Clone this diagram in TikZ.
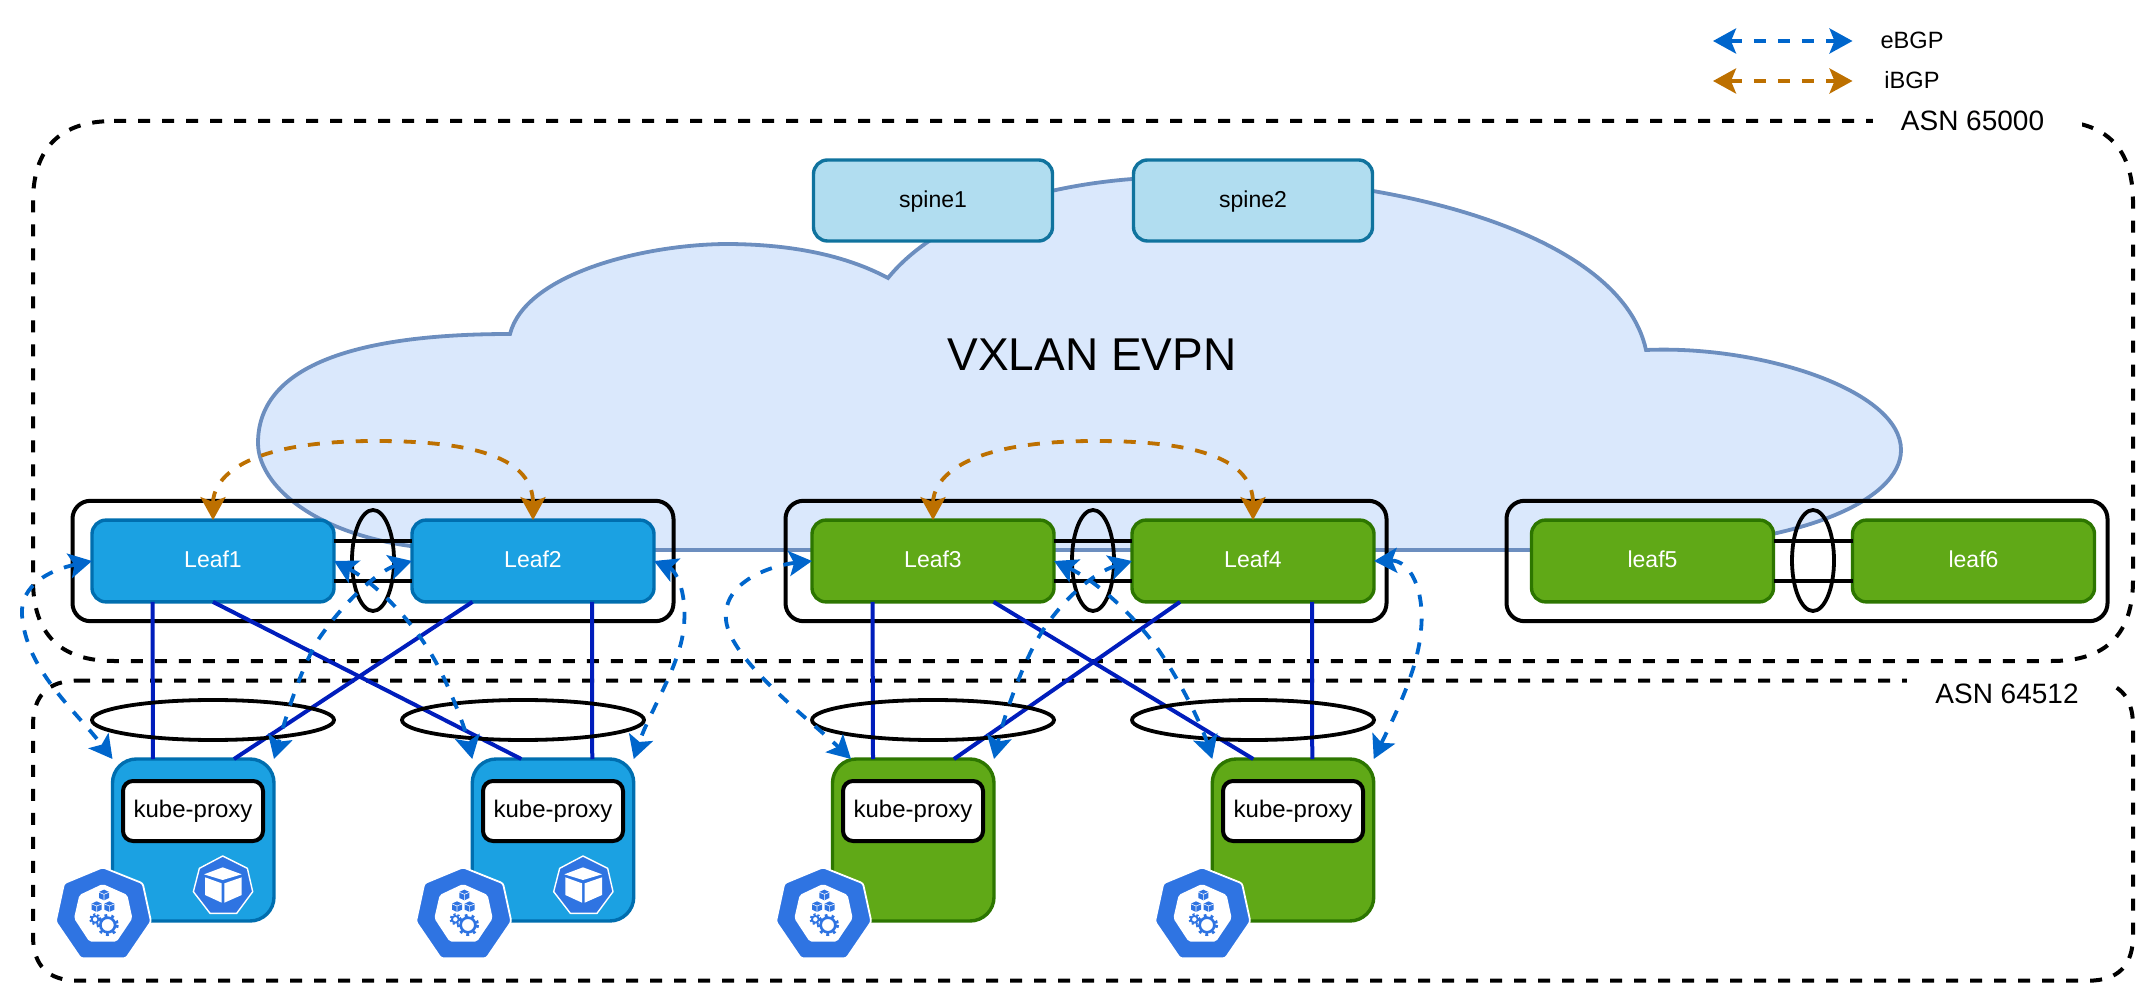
\documentclass[tikz,border=0pt]{standalone}
\usepackage{fontspec}
\setmainfont{Liberation Sans}
\usetikzlibrary{arrows.meta,shapes.geometric,calc}
\definecolor{ebgpc}{HTML}{0066CC}
\definecolor{ibgpc}{HTML}{BD7000}
\definecolor{bluefill}{HTML}{1BA1E2}
\definecolor{blueline}{HTML}{006EAF}
\definecolor{greenfill}{HTML}{60A917}
\definecolor{greenline}{HTML}{2D7600}
\definecolor{spinefill}{HTML}{B1DDF0}
\definecolor{spineline}{HTML}{10739E}
\definecolor{cloudfill}{HTML}{DAE8FC}
\definecolor{cloudline}{HTML}{6C8EBF}
\definecolor{linkc}{HTML}{001DBC}
\definecolor{k8sc}{HTML}{2F74E2}
\tikzset{
  asnline/.style={draw=black,line width=2pt,dash pattern=on 6pt off 6pt},
  asnlabel/.style={fill=white,inner sep=0pt,outer sep=0pt,font=\fontsize{14}{16}\selectfont},
  boxtext/.style={text height=9pt,text depth=2.3pt},
  groupbox/.style={draw=black,line width=2pt,rounded corners=9pt,minimum width=300.5pt,minimum height=60.2pt,inner sep=0pt,outer sep=0pt},
  leafbox/.style={boxtext,line width=1.7pt,rounded corners=7pt,minimum width=121pt,minimum height=40.9pt,inner sep=0pt,outer sep=0pt,text=white,font=\fontsize{11.5}{13}\selectfont},
  blueleaf/.style={leafbox,draw=blueline,fill=bluefill},
  greenleaf/.style={leafbox,draw=greenline,fill=greenfill},
  spinebox/.style={boxtext,draw=spineline,fill=spinefill,line width=1.7pt,rounded corners=7pt,minimum width=119.5pt,minimum height=40.5pt,inner sep=0pt,outer sep=0pt,font=\fontsize{11.5}{13}\selectfont},
  podbox/.style={line width=1.7pt,rounded corners=12pt,minimum width=80.75pt,minimum height=81pt,inner sep=0pt,outer sep=0pt},
  bluepod/.style={podbox,draw=blueline,fill=bluefill},
  greenpod/.style={podbox,draw=greenline,fill=greenfill},
  kubebox/.style={boxtext,draw=black,fill=white,line width=2pt,rounded corners=5pt,minimum width=70pt,minimum height=30pt,inner sep=0pt,outer sep=0pt,font=\fontsize{12}{14}\selectfont},
  laglong/.style={ellipse,draw=black,line width=1.9pt,minimum width=21pt,minimum height=50.5pt,inner sep=0pt,outer sep=0pt},
  lagwide/.style={ellipse,draw=black,line width=1.9pt,minimum width=121pt,minimum height=20pt,inner sep=0pt,outer sep=0pt},
  peerlink/.style={draw=black,line width=2pt},
  dlink/.style={draw=linkc,line width=2pt},
  ebgpb/.style={draw=ebgpc,line width=1.9pt,dash pattern=on 6pt off 6pt,{Stealth[length=11.5pt,width=12.5pt,inset=2.5pt,fill=ebgpc]}-{Stealth[length=11.5pt,width=12.5pt,inset=2.5pt,fill=ebgpc]}},
  ibgpb/.style={draw=ibgpc,line width=1.9pt,dash pattern=on 6pt off 6pt,{Stealth[length=11.5pt,width=12.5pt,inset=2.5pt,fill=ibgpc]}-{Stealth[length=11.5pt,width=12.5pt,inset=2.5pt,fill=ibgpc]}},
  legendtext/.style={inner sep=0pt,outer sep=0pt,font=\fontsize{11.8}{14}\selectfont},
  ctrlicon/.pic={
    \begin{scope}[x=0.16667pt,y=-0.16667pt,shift={(-188,-85)}]
      \fill[k8sc,draw=white,line width=0.9pt,line join=round,rounded corners=1.2pt]
        (188,82)--(308,130)--(333,245)--(258,355)--(122,355)--(47,245)--(72,130)--cycle;
      \fill[white,rounded corners=1pt] (188,132)--(262,165)--(277,235)--(230,305)--(148,305)--(102,235)--(118,165)--cycle;
      \foreach \cx/\cy in {192/165,170/200,208/200}{
        \begin{scope}[shift={(\cx,\cy)}]
          \fill[k8sc] (0,-16)--(15,-9)--(15,9)--(0,16)--(-15,9)--(-15,-9)--cycle;
          \draw[white,line width=0.3pt] (-15,-8)--(0,-2)--(15,-8) (0,-2)--(0,16);
        \end{scope}
      }
      \draw[k8sc,line width=1.3pt] (203,255) circle (22);
      \draw[k8sc,line width=1.4pt,dash pattern=on 1.4pt off 2.1pt] (203,255) circle (29);
      \draw[k8sc,line width=0.9pt] (165,238) circle (10);
      \draw[k8sc,line width=1pt,dash pattern=on 1pt off 1.1pt] (165,238) circle (15);
    \end{scope}
  },
  podicon/.pic={
    \begin{scope}[x=0.16667pt,y=-0.16667pt,shift={(-548,-48)}]
      \fill[k8sc,draw=white,line width=0.7pt,line join=round] (548,48)--(622,85)--(638,155)--(590,220)--(510,220)--(460,155)--(478,85)--cycle;
      \fill[white] (548,82)--(605,103)--(548,120)--(492,103)--cycle;
      \fill[white] (495,112)--(545,130)--(545,188)--(495,165)--cycle;
      \fill[white] (605,112)--(553,130)--(553,188)--(605,165)--cycle;
    \end{scope}
  }
}
\begin{document}
\begin{tikzpicture}[x=0.5pt,y=-0.5pt]
\useasboundingbox (0,0) rectangle (2156,1004);
% ASN areas (quadratic corners, drawn from the top left)
\draw[asnline] (114,121) -- (2052,121)
  .. controls (2106,121) and (2133,148) .. (2133,202) -- (2133,580)
  .. controls (2133,634) and (2106,661) .. (2052,661) -- (114,661)
  .. controls (60,661) and (33,634) .. (33,580) -- (33,202)
  .. controls (33,148) and (60,121) .. (114,121) -- cycle;
\draw[asnline] (78,680.6) -- (2088,680.6)
  .. controls (2118,680.6) and (2133,695.6) .. (2133,725.6) -- (2133,935.7)
  .. controls (2133,965.7) and (2118,980.7) .. (2088,980.7) -- (78,980.7)
  .. controls (48,980.7) and (33,965.7) .. (33,935.7) -- (33,725.6)
  .. controls (33,695.6) and (48,680.6) .. (78,680.6) -- cycle;
\node[asnlabel,minimum width=104.5pt,minimum height=20pt] (asnalabel) at (1977.5,121) {ASN 65000\kern5pt};
\node[asnlabel,minimum width=100pt,minimum height=30pt] (asnblabel) at (2007,694) {ASN 64512};
% cloud
\fill[cloudfill,draw=cloudline,line width=1.9pt,line join=miter]
  (510,334) .. controls (525,275) and (640,245) .. (725,244)
  .. controls (790,244) and (845,255) .. (888,278)
  .. controls (935,220) and (1040,178) .. (1180,177)
  .. controls (1380,172) and (1620,230) .. (1646,350)
  .. controls (1760,345) and (1901,390) .. (1901,450)
  .. controls (1901,500) and (1800,550) .. (1600,550)
  -- (470,550)
  .. controls (330,550) and (258,490) .. (258,443)
  .. controls (258,368) and (350,334) .. (510,334) -- cycle;
\node[inner sep=0pt,outer sep=0pt,font=\fontsize{23}{26}\selectfont] (vxlan) at (1092,355) {VXLAN EVPN};
% spines
\node[spinebox] (spine1) at (933,200.5) {spine1};
\node[spinebox] (spine2) at (1253,200.5) {spine2};
% groups
\node[groupbox] (group1) at (373,561) {};
\node[groupbox] (group2) at (1086,561) {};
\node[groupbox] (group3) at (1807,561) {};
% leaves
\node[blueleaf] (leaf1) at (213,561) {Leaf1};
\node[blueleaf] (leaf2) at (533,561) {Leaf2};
\node[greenleaf] (leaf3) at (933,561) {Leaf3};
\node[greenleaf] (leaf4) at (1253,561) {Leaf4};
\node[greenleaf] (leaf5) at (1652.5,561) {leaf5};
\node[greenleaf] (leaf6) at (1973.5,561) {leaf6};
% peer links
\foreach \a/\b in {leaf1/leaf2,leaf3/leaf4,leaf5/leaf6}{
  \draw[peerlink] ([yshift=10pt]\a.east) -- ([yshift=10pt]\b.west);
  \draw[peerlink] ([yshift=-10pt]\a.east) -- ([yshift=-10pt]\b.west);
}
\node[laglong] (lag1) at (373,560.5) {};
\node[laglong] (lag2) at (1093,560.5) {};
\node[laglong] (lag3) at (1813,560.5) {};
% pods
\node[bluepod] (pod1) at (193.25,840) {};
\node[bluepod] (pod2) at (553,840) {};
\node[greenpod] (pod3) at (913.25,840) {};
\node[greenpod] (pod4) at (1293,840) {};
\node[kubebox] (kube1) at (193,811) {kube-proxy};
\node[kubebox] (kube2) at (553,811) {kube-proxy};
\node[kubebox] (kube3) at (913,811) {kube-proxy};
\node[kubebox] (kube4) at (1293,811) {kube-proxy};
\pic at (222.7,856) {podicon};
\pic at (583,856) {podicon};
\pic at (102.7,868.3) {ctrlicon};
\pic at (463,868.3) {ctrlicon};
\pic at (823,868.3) {ctrlicon};
\pic at (1202,868.3) {ctrlicon};
% leaf to pod links
\draw[dlink] ([xshift=30.25pt]leaf1.south west) -- ([xshift=20.25pt]pod1.north west);
\draw[dlink] (leaf1.south) -- ([xshift=24.5pt]pod2.north west);
\draw[dlink] ([xshift=30.25pt]leaf2.south west) -- ([xshift=60.75pt]pod1.north west);
\draw[dlink] ([xshift=90pt]leaf2.south west) -- ([xshift=60pt]pod2.north west);
\draw[dlink] ([xshift=30.25pt]leaf3.south west) -- ([xshift=20.25pt]pod3.north west);
\draw[dlink] ([xshift=90.75pt]leaf3.south west) -- ([xshift=20.5pt]pod4.north west);
\draw[dlink] ([xshift=24pt]leaf4.south west) -- ([xshift=60.75pt]pod3.north west);
\draw[dlink] ([xshift=90pt]leaf4.south west) -- ([xshift=50pt]pod4.north west);
% lower lags
\node[lagwide] (lag4) at (213,720) {};
\node[lagwide] (lag5) at (523,720) {};
\node[lagwide] (lag6) at (933,720) {};
\node[lagwide] (lag7) at (1253,720) {};
% iBGP
\draw[ibgpb] (leaf1.north) .. controls (213,480) and (240,441) .. (375,441) .. controls (480,441) and (533,460) .. (leaf2.north);
\draw[ibgpb] (leaf3.north) .. controls (933,480) and (960,441) .. (1095,441) .. controls (1200,441) and (1253,460) .. (leaf4.north);
% eBGP
\draw[ebgpb] (leaf1.west) .. controls (50,570) and (20,585) .. (22,615) .. controls (26,670) and (75,710) .. (pod1.north west);
\draw[ebgpb] (leaf1.east) .. controls (372,581) and (415,620) .. (440,670) .. controls (455,700) and (467,735) .. (pod2.north west);
\draw[ebgpb] (leaf2.west) .. controls (380,570) and (345,600) .. (318,640) .. controls (300,670) and (285,720) .. (pod1.north east);
\draw[ebgpb] (leaf2.east) .. controls (675,570) and (687,590) .. (684,625) .. controls (681,665) and (650,710) .. (pod2.north east);
\draw[ebgpb] (leaf3.west) .. controls (775,565) and (722,580) .. (726,620) .. controls (730,660) and (810,720) .. ([xshift=9.25pt]pod3.north west);
\draw[ebgpb] (leaf3.east) .. controls (1090,578) and (1125,605) .. (1155,645) .. controls (1175,672) and (1200,720) .. (pod4.north west);
\draw[ebgpb] (leaf4.west) .. controls (1095,572) and (1060,600) .. (1037,640) .. controls (1020,670) and (1003,720) .. (pod3.north east);
\draw[ebgpb] (leaf4.east) .. controls (1410,560) and (1425,590) .. (1421,630) .. controls (1418,670) and (1395,715) .. (pod4.north east);
% legend
\coordinate (lega) at (1713,41);
\coordinate (legb) at (1852.5,41);
\coordinate (legc) at (1713,81);
\coordinate (legd) at (1852.5,81);
\draw[ebgpb] (lega) -- (legb);
\draw[ibgpb] (legc) -- (legd);
\node[legendtext] (lege) at (1912,40) {eBGP};
\node[legendtext] (legi) at (1912,80) {iBGP};
\end{tikzpicture}
\end{document}
